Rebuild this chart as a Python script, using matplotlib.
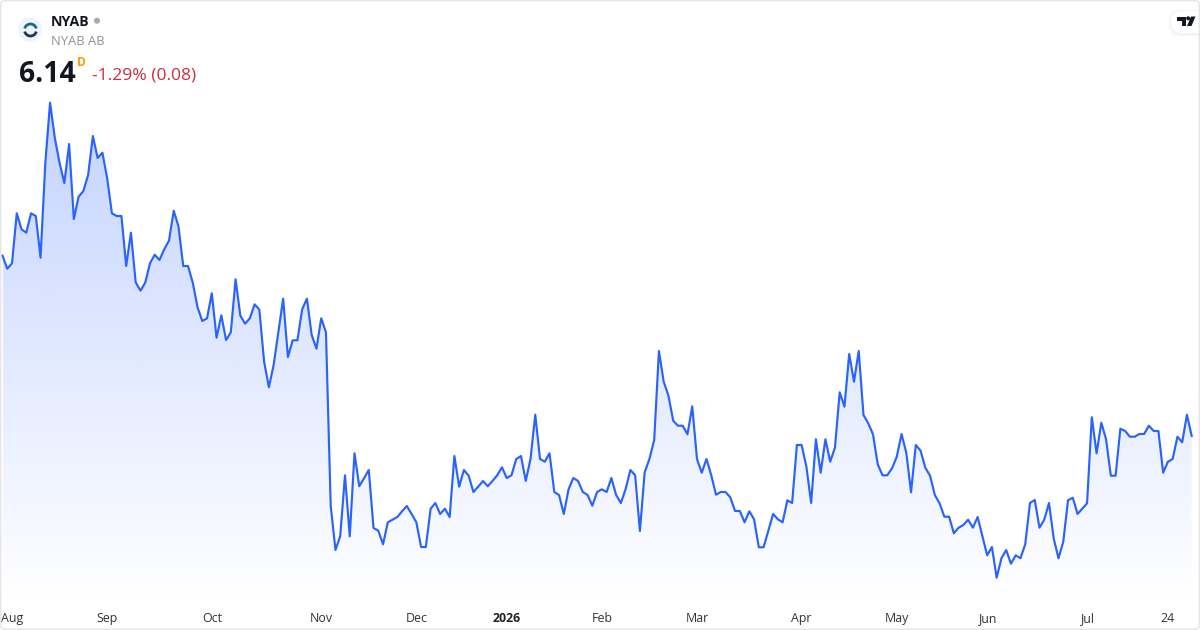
import numpy as np
import matplotlib
matplotlib.use("Agg")
import matplotlib.pyplot as plt
from matplotlib.patches import Circle, Arc, FancyBboxPatch, Polygon

W, H = 1200, 630
FONT = "Open Sans"

symbol = "NYAB"
company = "NYAB AB"
last_price = "6.14"
session = "D"
change_text = "-1.29% (0.08)"

tick_labels = ["Aug", "Sep", "Oct", "Nov", "Dec", "2026", "Feb", "Mar", "Apr", "May", "Jun", "Jul", "24"]
tick_positions = [2, 22, 44, 67, 87, 106, 126, 146, 168, 188, 207, 228, 245]

prices_aug_oct = [
    7.943, 7.813, 7.867, 8.367, 8.207, 8.173, 8.367, 8.34, 7.923, 8.87,
    9.473, 9.12, 8.87, 8.67, 9.06, 8.31, 8.533, 8.59, 8.75, 9.14,
    8.92, 8.973, 8.72, 8.367, 8.34, 8.34, 7.84, 8.173, 7.677, 7.593,
    7.673, 7.867, 7.953, 7.90, 8.007, 8.093, 8.393, 8.233, 7.84, 7.84,
    7.673, 7.427, 7.29, 7.317, 7.567, 7.123, 7.347, 7.10, 7.177, 7.707,
    7.343, 7.263, 7.317, 7.457, 7.403, 6.883, 6.627, 6.85, 7.183, 7.513,
    6.93, 7.097, 7.097, 7.407, 7.513, 7.15, 7.013, 7.317, 7.177,
]
prices_nov_jan = [
    5.44, 5.00, 5.14, 5.747, 5.137, 5.967, 5.637, 5.717, 5.80, 5.22,
    5.193, 5.057, 5.277, 5.303, 5.33, 5.387, 5.44, 5.36, 5.277, 5.03,
    5.03, 5.413, 5.47, 5.36, 5.413, 5.33, 5.94, 5.633, 5.80, 5.743,
    5.58, 5.633, 5.69, 5.637, 5.69, 5.747, 5.827, 5.72, 5.747, 5.91,
    5.94, 5.69, 5.91, 6.353, 5.91, 5.883, 5.967, 5.58, 5.55, 5.36,
    5.607, 5.72, 5.69, 5.58, 5.55, 5.443, 5.58,
]
prices_feb_apr = [
    5.607, 5.58, 5.72, 5.55, 5.47, 5.61, 5.80, 5.747, 5.19, 5.777,
    5.91, 6.10, 6.99, 6.683, 6.543, 6.293, 6.243, 6.243, 6.157, 6.437,
    5.91, 5.773, 5.91, 5.747, 5.553, 5.58, 5.58, 5.527, 5.39, 5.39,
    5.277, 5.387, 5.307, 5.027, 5.027, 5.193, 5.36, 5.307, 5.277, 5.497,
    5.47, 6.05, 6.05, 5.833, 5.47, 6.107, 5.773, 6.107, 5.883, 6.023,
    6.577, 6.433, 6.96, 6.683, 6.99, 6.35, 6.267, 6.157, 5.857, 5.747,
    5.747,
]
prices_may_jul = [
    5.817, 5.933, 6.16, 5.973, 5.577, 6.05, 5.993, 5.823, 5.743, 5.55,
    5.467, 5.333, 5.333, 5.167, 5.223, 5.25, 5.303, 5.223, 5.33, 5.14,
    4.947, 5.03, 4.723, 4.917, 5.00, 4.863, 4.947, 4.917, 5.057, 5.47,
    5.50, 5.223, 5.303, 5.47, 5.113, 4.917, 5.083, 5.497, 5.523, 5.36,
    5.413, 5.467, 6.327, 5.967, 6.273, 6.107, 5.743, 5.743, 6.213, 6.19,
    6.133, 6.133, 6.16, 6.16, 6.243, 6.19, 6.19, 5.773, 5.883, 5.91,
    6.133, 6.077, 6.353, 6.14,
]
prices = np.array(prices_aug_oct + prices_nov_jan + prices_feb_apr + prices_may_jul)
days = np.arange(len(prices))

fig = plt.figure(figsize=(W / 100, H / 100), dpi=100, facecolor="white")

# main plot
AX_BOTTOM_PX = 604
ax = fig.add_axes([0, (H - AX_BOTTOM_PX) / H, 1, AX_BOTTOM_PX / H])
step = (1191.7 - 2.5) / (len(prices) - 1)
ax.set_xlim(-2.5 / step, (W - 2.5) / step)
ax.set_ylim(10.50 - AX_BOTTOM_PX / 100, 10.50)
ax.patch.set_alpha(0)
for s in ax.spines.values():
    s.set_visible(False)
ax.set_yticks([])
ax.set_xticks(tick_positions)
ax.set_xticklabels(tick_labels, fontfamily=FONT, fontsize=8.9, color="#333333")
ax.tick_params(axis="x", length=0, pad=6)
for lab, txt in zip(ax.get_xticklabels(), tick_labels):
    if txt == "2026":
        lab.set_fontweight("bold")
        lab.set_color("#222222")

# gradient area
area = ax.fill_between(days, prices, ax.get_ylim()[0], color="none", linewidth=0)
top_y = prices.max()
bottom_y = ax.get_ylim()[0]
n = 256
rgba = np.zeros((n, 1, 4))
rgba[..., 0] = 41 / 255
rgba[..., 1] = 98 / 255
rgba[..., 2] = 1.0
rgba[..., 3] = np.linspace(0.28, 0.0, n)[:, None]
im = ax.imshow(rgba, extent=[days[0], days[-1], bottom_y, top_y], aspect="auto",
               origin="upper", zorder=1, interpolation="bilinear")
im.set_clip_path(area.get_paths()[0], transform=ax.transData)
ax.set_xlim(-2.5 / step, (W - 2.5) / step)
ax.set_ylim(10.50 - AX_BOTTOM_PX / 100, 10.50)

ax.plot(days, prices, color="#2962FF", lw=1.55, solid_joinstyle="round", zorder=3)

# overlay in pixel units for the header
ov = fig.add_axes([0, 0, 1, 1])
ov.set_xlim(0, W)
ov.set_ylim(H, 0)
ov.axis("off")
ov.patch.set_alpha(0)

# card border
ov.add_patch(FancyBboxPatch((0.7, 0.7), W - 1.4, H - 1.4, boxstyle="round,pad=0,rounding_size=4",
                            fc="none", ec="#E6E6E8", lw=1.1, zorder=6))

# logo
ov.add_patch(Circle((30, 29.5), 12, fc="#F0F3FA", ec="none", zorder=4))
ov.add_patch(Arc((30.5, 30), 12, 12, theta1=195, theta2=345, ec="#0E6E86", lw=2.0, zorder=5))
ov.add_patch(Arc((30.5, 30), 12, 12, theta1=15, theta2=165, ec="#123F4C", lw=2.0, zorder=5))

ov.text(51, 22, symbol, fontfamily=FONT, fontsize=10.2, fontweight="bold", color="#131722", va="center", ha="left")
ov.add_patch(Circle((97, 20.7), 3, fc="#A6A8AE", ec="none"))
ov.text(51, 41.5, company, fontfamily=FONT, fontsize=9.4, color="#8F929A", va="center", ha="left")
ov.text(18.5, 74, last_price, fontfamily=FONT, fontsize=20.3, fontweight="bold", color="#131722", va="center", ha="left")
ov.text(77, 62, session, fontfamily=FONT, fontsize=8.6, fontweight="bold", color="#FF9800", va="center", ha="left")
ov.text(92, 76, change_text, fontfamily=FONT, fontsize=12.6, color="#CC2F3C", va="center", ha="left")

# TradingView badge
for off, a in [(3.0, 0.012), (2.0, 0.015), (1.0, 0.02)]:
    ov.add_patch(FancyBboxPatch((1171 - off, 11 - off + 1), 40 + off, 22 + 2 * off,
                                boxstyle="round,pad=0,rounding_size=11", fc="black", ec="none",
                                alpha=a, zorder=4))
ov.add_patch(FancyBboxPatch((1171, 11), 40, 22, boxstyle="round,pad=0,rounding_size=11",
                            fc="white", ec="none", zorder=5))
ov.add_patch(Polygon([(1177, 16.5), (1185.5, 16.5), (1185.5, 26), (1181.5, 26), (1181.5, 20.5), (1177, 20.5)],
                     fc="#131722", ec="none", zorder=6))
ov.add_patch(Circle((1188.2, 18.3), 2, fc="#131722", ec="none", zorder=6))
ov.add_patch(Polygon([(1191, 16.5), (1195.5, 16.5), (1191.5, 26), (1187, 26)], fc="#131722", ec="none", zorder=6))

fig.savefig("out.png", dpi=100)
